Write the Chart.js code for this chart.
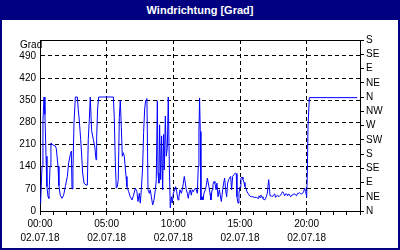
<!DOCTYPE html>
<html>
<head>
<meta charset="utf-8">
<script src="https://cdn.jsdelivr.net/npm/chart.js@4/dist/chart.umd.min.js"></script>
<style>
  html, body { margin: 0; padding: 0; background: #fff; }
  #wrap { position: relative; width: 400px; height: 250px; box-sizing: border-box; border: 2px solid #000080; overflow: hidden; }
  #title { position: absolute; left: 0; top: 0; width: 100%; height: 18px; background: #000080; color: #fff;
           font: bold 11px 'Liberation Sans', Arial, sans-serif; text-align: center; line-height: 17px; }
  #unit { position: absolute; left: 18px; top: 37px; font: 10px 'Liberation Sans', Arial, sans-serif; color: #000; }
  canvas { position: absolute; left: -2px; top: -2px; }
</style>
</head>
<body>
<div id="wrap">
  <canvas id="chart" width="400" height="250"></canvas>
  <div id="title">Windrichtung [Grad]</div>
  <div id="unit">Grad</div>
</div>
<script>
// ── Data (time in hours of 02.07.18, wind direction in degrees) ───────────────

const hours = [
  0, 0.05, 0.15, 0.22, 0.3, 0.37, 0.45, 0.52, 0.6, 0.67, 0.75, 0.82, 0.97, 1.15, 1.22, 1.35, 1.42, 1.52, 1.65, 1.77,
  1.9, 2.05, 2.15, 2.27, 2.35, 2.4, 2.47, 2.55, 2.65, 2.8, 2.87, 2.95, 3.05, 3.12, 3.2, 3.3, 3.45, 3.55, 3.62, 3.7,
  3.77, 3.87, 4.0, 4.12, 4.2, 4.25, 4.32, 4.4, 5.5, 5.57, 5.65, 5.72, 5.8, 5.87, 5.95, 6.02, 6.1, 6.17, 6.25, 6.32,
  6.45, 6.52, 6.65, 6.77, 6.9, 7.02, 7.15, 7.27, 7.35, 7.45, 7.52, 7.6, 7.7, 7.77, 7.85, 7.92, 8.02, 8.1, 8.2, 8.27,
  8.35, 8.45, 8.55, 8.65, 8.72, 8.8, 8.85, 8.92, 8.97, 9.05, 9.12, 9.2, 9.27, 9.32, 9.4, 9.47, 9.55, 9.62, 9.7, 9.77,
  9.85, 9.92, 10.0, 10.1, 10.17, 10.25, 10.35, 10.42, 10.5, 10.6, 10.67, 10.75, 10.82, 10.9, 10.97, 11.05, 11.12, 11.2, 11.27, 11.35,
  11.42, 11.5, 11.57, 11.65, 11.72, 11.8, 11.87, 11.92, 11.97, 12.02, 12.07, 12.15, 12.22, 12.3, 12.4, 12.47, 12.55, 12.67, 12.75, 12.82,
  12.9, 12.97, 13.05, 13.12, 13.2, 13.27, 13.35, 13.45, 13.52, 13.6, 13.7, 13.77, 13.85, 13.92, 14.0, 14.07, 14.15, 14.22, 14.3, 14.37,
  14.45, 14.55, 14.65, 14.72, 14.77, 14.85, 14.92, 15.0, 15.07, 15.15, 15.22, 15.3, 15.37, 15.45, 15.52, 15.6, 15.72, 15.85, 15.97, 16.1,
  16.22, 16.35, 16.42, 16.5, 16.57, 16.65, 16.72, 16.8, 16.9, 16.97, 17.05, 17.15, 17.2, 17.25, 17.35, 17.42, 17.5, 17.6, 17.67, 17.75,
  17.82, 17.9, 17.97, 18.05, 18.12, 18.2, 18.27, 18.35, 18.42, 18.5, 18.57, 18.65, 18.72, 18.8, 18.87, 18.95, 19.02, 19.1, 19.17, 19.25,
  19.32, 19.4, 19.47, 19.55, 19.62, 19.7, 19.77, 19.85, 19.92, 20.0, 20.05, 20.1, 20.2, 23.8
];

const grad = [
  25, 30, 141, 284, 360, 305, 173, 77, 45, 40, 141, 215, 208, 205, 198, 141, 80, 50, 40, 50,
  77, 109, 152, 178, 189, 70, 130, 279, 360, 360, 320, 284, 226, 180, 120, 88, 82, 82, 226, 290,
  360, 254, 226, 199, 162, 232, 322, 360, 360, 296, 152, 72, 77, 99, 296, 350, 264, 173, 184, 173,
  109, 77, 61, 45, 35, 50, 72, 61, 30, 56, 25, 67, 141, 248, 322, 348, 355, 67, 56, 67,
  45, 19, 35, 67, 99, 348, 120, 88, 272, 99, 237, 67, 242, 130, 300, 173, 200, 360, 141, 10,
  45, 25, 56, 67, 77, 61, 35, 45, 67, 56, 67, 88, 109, 88, 67, 56, 40, 61, 67, 50,
  67, 61, 67, 72, 67, 56, 141, 251, 357, 251, 35, 45, 35, 56, 67, 80, 104, 77, 56, 35,
  67, 83, 93, 88, 67, 88, 45, 67, 50, 30, 67, 88, 104, 67, 45, 88, 99, 104, 109, 67,
  109, 115, 120, 118, 45, 25, 56, 77, 104, 107, 100, 90, 77, 72, 61, 56, 48, 45, 45, 43,
  43, 40, 48, 43, 50, 45, 40, 35, 37, 45, 56, 99, 77, 48, 48, 45, 50, 54, 43, 48,
  50, 45, 48, 50, 56, 61, 56, 48, 54, 54, 48, 54, 50, 45, 50, 50, 54, 54, 50, 48,
  56, 56, 58, 54, 54, 56, 61, 72, 61, 45, 120, 268, 358, 358
];

const dateLabel = '02.07.18';
const timeLabels = ['00:00', '05:00', '10:00', '15:00', '20:00'];
const compassLabels = ['N', 'NE', 'E', 'SE', 'S', 'SW', 'W', 'NW', 'N', 'NE', 'E', 'SE', 'S'];

// ── Frame plugin (top border of plot) ─────────────────────────────────────────

const framePlugin = {
  id: 'frame',
  afterDraw(chart) {
    const { ctx, chartArea: a } = chart;
    ctx.save();
    ctx.strokeStyle = '#000';
    ctx.lineWidth = 1;
    ctx.beginPath();
    ctx.moveTo(a.left, Math.round(a.top) + 0.5);
    ctx.lineTo(a.right, Math.round(a.top) + 0.5);
    ctx.stroke();
    ctx.restore();
  },
};

const font = { family: "'Liberation Sans', Arial, sans-serif", size: 10 };

new Chart(document.getElementById('chart'), {
  type: 'line',
  data: {
    datasets: [{
      data: hours.map((h, i) => ({ x: h, y: grad[i] })),
      borderColor: '#0000ff',
      borderWidth: 1,
      pointRadius: 0,
      tension: 0,
      fill: false,
    }],
  },
  options: {
    responsive: false,
    animation: false,
    layout: { padding: { top: 40, left: 0, right: 0, bottom: 0 } },
    plugins: { legend: { display: false }, tooltip: { enabled: false } },
    scales: {
      x: {
        type: 'linear',
        min: 0,
        max: 24,
        afterFit: s => { s.height = 39; },
        border: { color: '#000', width: 1, dash: [4, 3] },
        grid: {
          color: c => (c.tick && c.tick.value % 5 === 0 && c.tick.value > 0) ? '#000' : 'rgba(0,0,0,0)',
          tickColor: '#000',
          tickLength: 4,
          tickBorderDash: [],
        },
        ticks: {
          stepSize: 1,
          autoSkip: false,
          maxRotation: 0,
          padding: 2,
          color: '#000',
          font: { ...font, lineHeight: 1.4 },
          callback: v => (v % 5 === 0 && timeLabels[v / 5]) ? [timeLabels[v / 5], dateLabel] : '',
        },
      },
      y: {
        position: 'left',
        min: 0,
        max: 540,
        afterFit: s => { s.width = 40; },
        border: { color: '#000', width: 1, dash: [4, 3] },
        grid: {
          color: c => (c.tick && c.tick.value > 0 && c.tick.value < 540) ? '#000' : 'rgba(0,0,0,0)',
          drawTicks: false,
          tickLength: 0,
        },
        ticks: {
          stepSize: 70,
          padding: 4,
          color: '#000',
          font,
          callback: v => v === 540 ? '' : v,
        },
      },
      y2: {
        position: 'right',
        min: 0,
        max: 540,
        afterFit: s => { s.width = 40; },
        border: { color: '#000', width: 1 },
        grid: { drawOnChartArea: false, tickColor: '#000', tickLength: 4 },
        ticks: {
          stepSize: 45,
          autoSkip: false,
          padding: 2,
          color: '#000',
          font,
          callback: v => compassLabels[v / 45] || '',
        },
      },
    },
  },
  plugins: [framePlugin],
});
</script>
</body>
</html>
